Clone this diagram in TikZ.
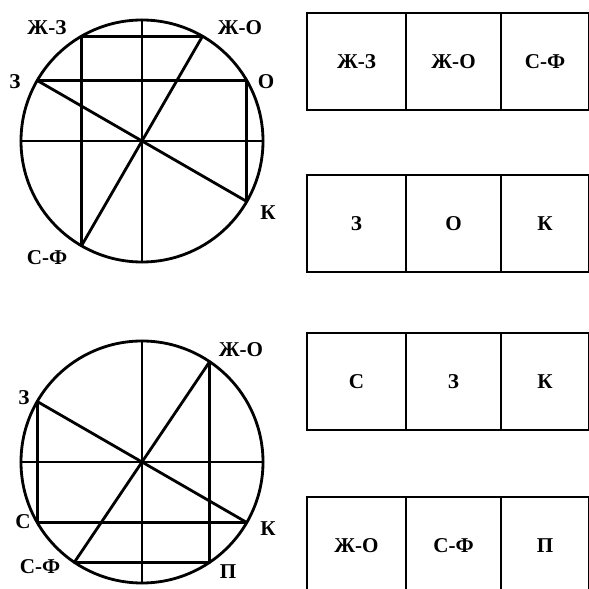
\documentclass[tikz,border=0pt]{standalone}
\usepackage{fontspec}
\setmainfont{Liberation Serif}
\usetikzlibrary{positioning, calc}

\begin{document}
\begin{tikzpicture}[
    x=0.03cm, y=0.03cm,
    every node/.style={font=\bfseries\fontsize{18}{20}\selectfont},
    chord/.style={line width=2.4pt, line cap=round},
    cell/.style={draw, line width=2.4pt, minimum height=2.91cm, outer sep=0pt, inner sep=0pt},
    lbl/.style={inner sep=0pt},
]
\useasboundingbox (0,0) rectangle (589,589);

% ── Upper circle ─────────────────────────────────────────────────────────────
\coordinate (uc) at (142,448);
\draw[chord] (uc) circle[radius=121];
\foreach \name/\ang in {uzz/120, uzo/60, uz/150, uo/30, uk/-30, usf/240, ut/90, ub/270, ul/180, ur/0}
  \coordinate (\name) at ($(uc)+(\ang:121)$);
\draw[chord] (ut) -- (ub);
\draw[chord] (ul) -- (ur);
\draw[chord] (uzz) -- (uzo);
\draw[chord] (uz) -- (uo);
\draw[chord] (uzz) -- (usf);
\draw[chord] (uo) -- (uk);
\draw[chord] (uz) -- (uk);
\draw[chord] (uzo) -- (usf);

\node[lbl] (luzz) at (47,561) {Ж-З};
\node[lbl] (luzo) at (240,561) {Ж-О};
\node[lbl] (luz)  at (15,507) {З};
\node[lbl] (luo)  at (266,507) {О};
\node[lbl] (luk)  at (268,376) {К};
\node[lbl] (lusf) at (47,331) {С-Ф};

% ── Lower circle ─────────────────────────────────────────────────────────────
\coordinate (dc) at (142,127);
\draw[chord] (dc) circle[radius=121];
\foreach \name/\ang in {dzo/56, dz/150, ds/210, dk/-30, dsf/236, dp/-56, dt/90, db/270, dl/180, dr/0}
  \coordinate (\name) at ($(dc)+(\ang:121)$);
\draw[chord] (dt) -- (db);
\draw[chord] (dl) -- (dr);
\draw[chord] (dz) -- (dk);
\draw[chord] (dzo) -- (dsf);
\draw[chord] (dz) -- (ds);
\draw[chord] (ds) -- (dk);
\draw[chord] (dzo) -- (dp);
\draw[chord] (dsf) -- (dp);

\node[lbl] (ldzo) at (241,239) {Ж-О};
\node[lbl] (ldz)  at (24,191) {З};
\node[lbl] (lds)  at (23,67) {С};
\node[lbl] (ldk)  at (268,60) {К};
\node[lbl] (ldsf) at (40,22) {С-Ф};
\node[lbl] (ldp)  at (228,17) {П};

% ── Rows of cells ────────────────────────────────────────────────────────────
\foreach \row/\top/\a/\b/\c in {r1/576/Ж-З/Ж-О/С-Ф, r2/414/З/О/К, r3/256/С/З/К, r4/92/Ж-О/С-Ф/П} {
  \node[cell, minimum width=2.97cm, anchor=north west] (\row a) at (307,\top) {\a};
  \node[cell, minimum width=2.85cm, right=0pt of \row a] (\row b) {\b};
  \node[cell, minimum width=2.64cm, right=0pt of \row b] (\row c) {\c};
}

\end{tikzpicture}
\end{document}
